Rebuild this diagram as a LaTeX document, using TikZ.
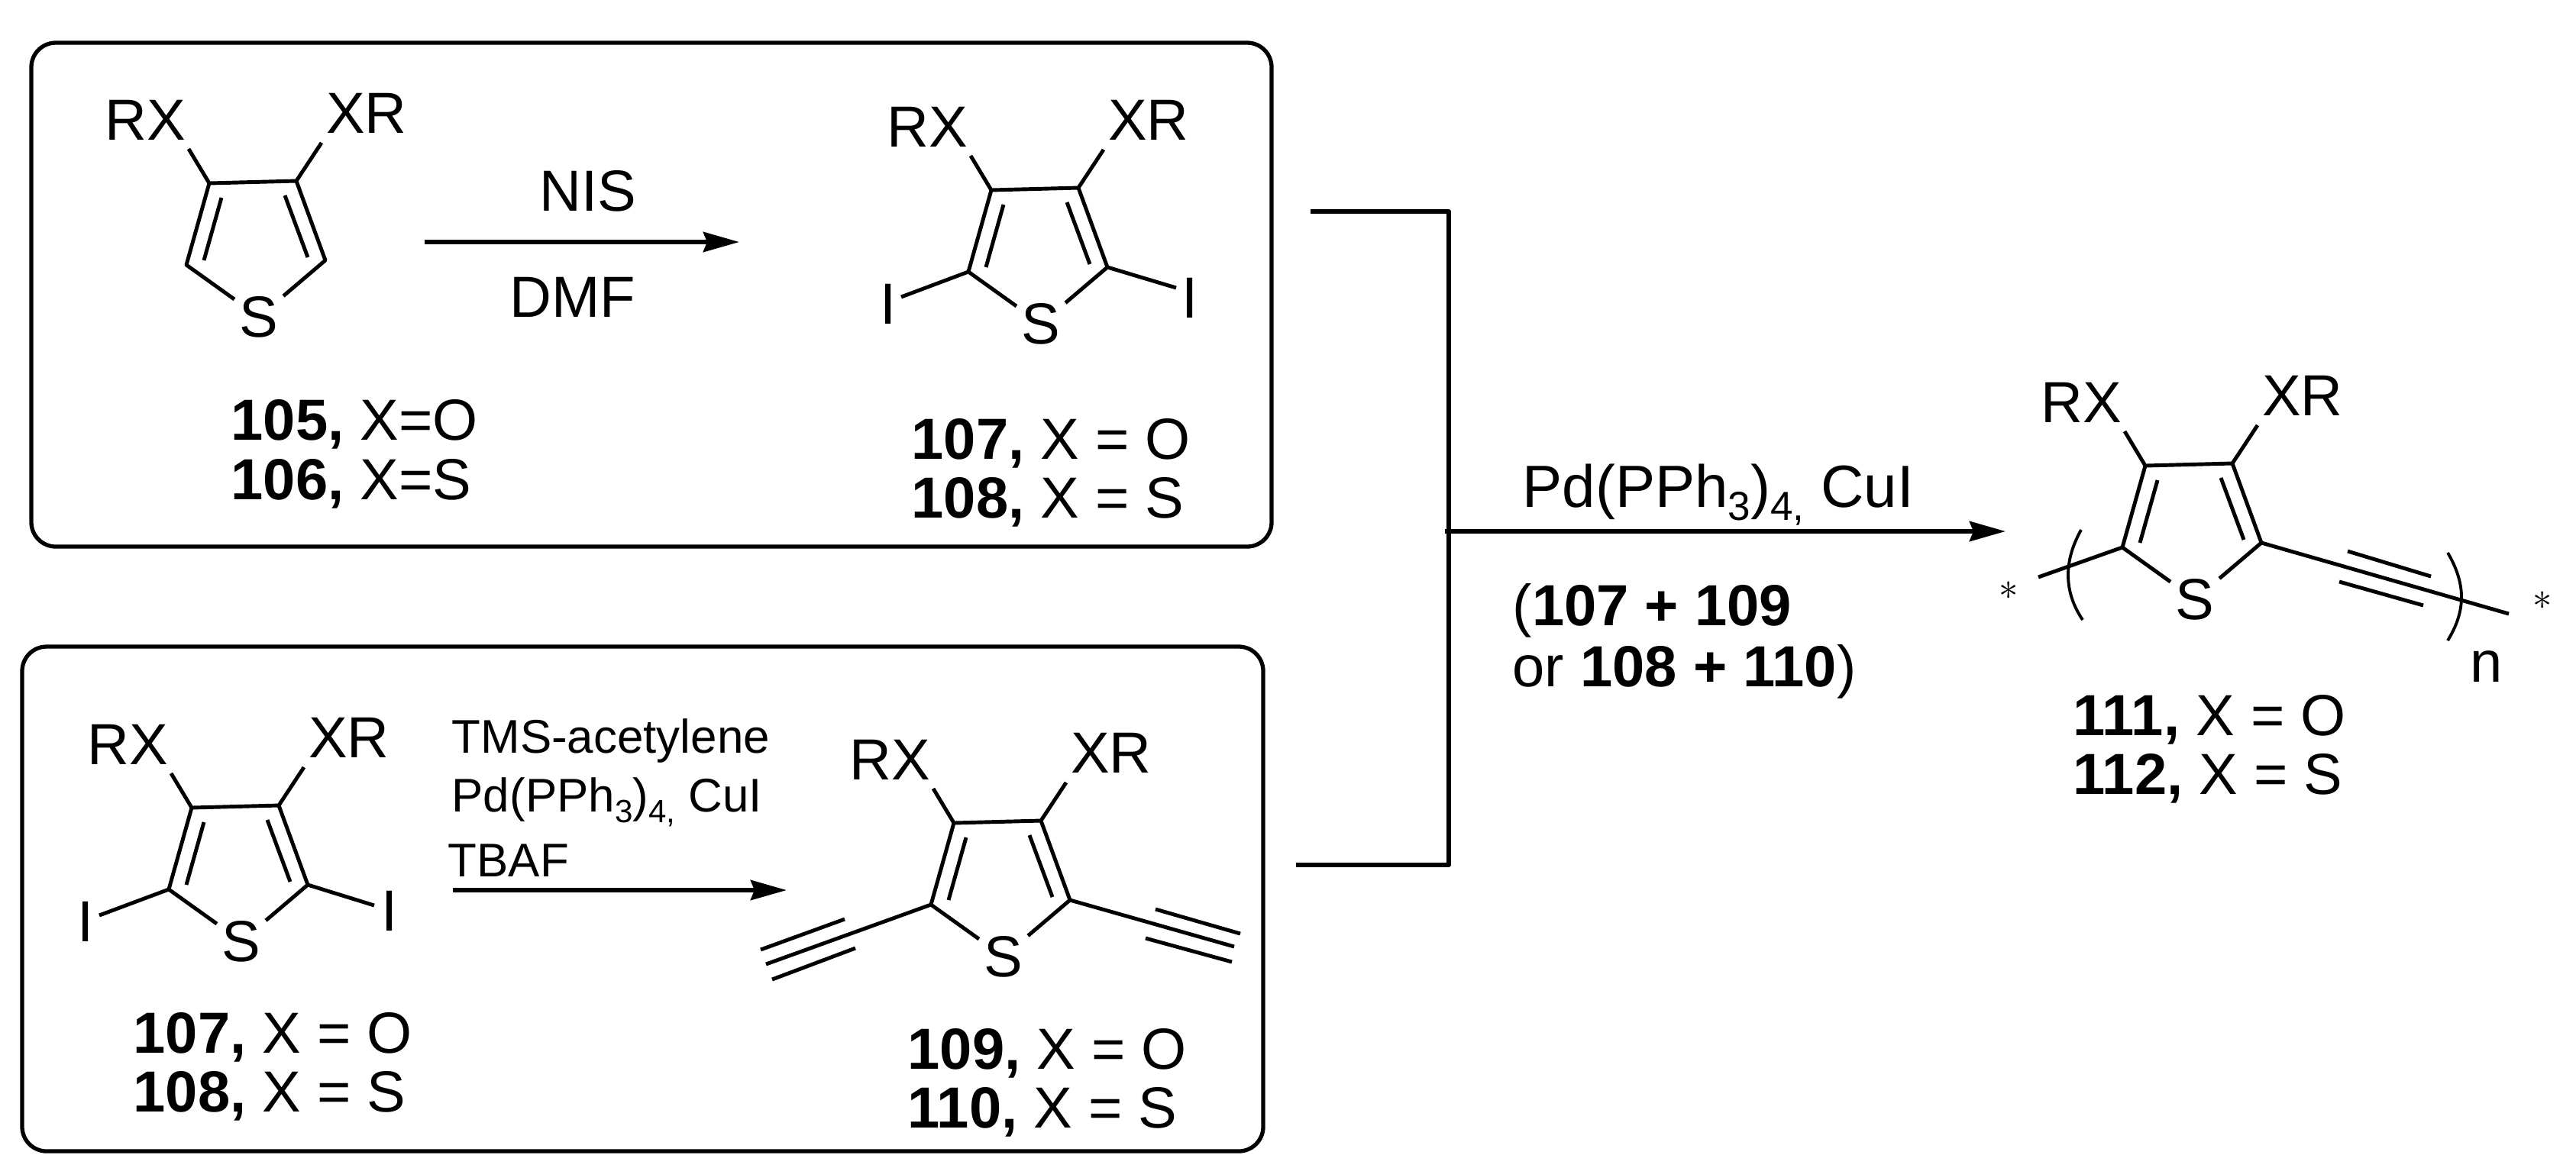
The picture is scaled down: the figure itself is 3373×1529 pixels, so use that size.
\documentclass[tikz,border=0pt]{standalone}
\usepackage{fontspec}
\setmainfont{Liberation Sans}
\usetikzlibrary{arrows.meta}

\tikzset{
    bond/.style={black, line width=1.4pt, line join=round},
    box/.style={black, line width=1.5pt, rounded corners=0.32cm},
    rxn/.style={black, line width=1.7pt, -{Stealth[length=0.47cm,width=0.26cm,inset=0.05cm]}},
    atom/.style={font=\fontsize{21.6}{24}\selectfont, inner sep=0.06cm},
    lab/.style={font=\fontsize{21.6}{24}\selectfont, inner sep=0, anchor=base west},
    reag/.style={font=\fontsize{17.6}{20}\selectfont, inner sep=0, anchor=base west},
    star/.style={font=\fontsize{15}{17}\selectfont, inner sep=0}
}

\newcommand{\lowtxt}[1]{\raisebox{-0.23em}{\scalebox{0.68}{#1}}}

% ring, drawn where the first one sits and moved by #2,#3
\newcommand{\thioring}[3]{%
    \begin{scope}[shift={(#2,#3)}]
        \coordinate (#1c2) at (244,347);
        \coordinate (#1c3) at (274,240);
        \coordinate (#1c4) at (388,237);
        \coordinate (#1c5) at (426,341);
        \coordinate (#1rxend) at (247,195);
        \coordinate (#1xrend) at (421,187);
        \node[atom] (#1s) at (339,415) {S};
        \node[atom] (#1rx) at (190,157) {RX};
        \node[atom] (#1xr) at (480,148) {XR};
        \draw[bond] (#1rxend) -- (#1c3) -- (#1c4) -- (#1xrend);
        \draw[bond] (#1s) -- (#1c2) -- (#1c3);
        \draw[bond] (#1s) -- (#1c5) -- (#1c4);
        \draw[bond] (290,259) -- (267,341);
        \draw[bond] (373,256) -- (403,337);
    \end{scope}}

\begin{document}
\begin{tikzpicture}[x=0.01cm, y=-0.01cm]
    \useasboundingbox (0,0) rectangle (3373,1529);

    % top box
    \draw[box] (41,56) rectangle (1665,716);
    \thioring{a}{0}{0}
    \thioring{b}{1024}{9}
    \node[atom] (bil) at (1163,398) {I};
    \node[atom] (bir) at (1558,390) {I};
    \coordinate (bilend) at (1180,389);
    \coordinate (birend) at (1540,377);
    \draw[bond] (bc2) -- (bilend);
    \draw[bond] (bc5) -- (birend);

    \coordinate (nisa) at (556,317);
    \coordinate (nisb) at (968,317);
    \draw[rxn] (nisa) -- (nisb);
    \node[atom] (nis) at (770,250) {NIS};
    \node[atom] (dmf) at (750,389) {DMF};

    \node[lab] (l105) at (302,576) {\textbf{105,} X=O};
    \node[lab] (l106) at (302,654) {\textbf{106,} X=S};
    \node[lab] (l107a) at (1193,601) {\textbf{107,} X = O};
    \node[lab] (l108a) at (1193,678) {\textbf{108,} X = S};

    % bottom box
    \draw[box] (29,847) rectangle (1654,1508);
    \thioring{c}{-23}{818}
    \thioring{d}{975}{838}
    \node[atom] (cil) at (112,1207) {I};
    \node[atom] (cir) at (510,1193) {I};
    \coordinate (cilend) at (130,1199);
    \coordinate (cirend) at (490,1186);
    \draw[bond] (cc2) -- (cilend);
    \draw[bond] (cc5) -- (cirend);

    \coordinate (dle) at (1003,1263);
    \coordinate (dre) at (1616,1240);
    \draw[bond] (dc2) -- (dle);
    \draw[bond] (dc5) -- (dre);
    \draw[bond] (1106,1204) -- (996,1244);
    \draw[bond] (1120,1242) -- (1011,1283);
    \draw[bond] (1513,1191) -- (1624,1223);
    \draw[bond] (1500,1229) -- (1613,1260);

    \coordinate (tmsa) at (593,1166);
    \coordinate (tmsb) at (1030,1166);
    \draw[rxn] (tmsa) -- (tmsb);
    \node[reag] (tms) at (591,986) {TMS-acetylene};
    \node[reag] (pdb) at (591,1063) {Pd(PPh\lowtxt{3})\lowtxt{4,} CuI};
    \node[reag] (tbaf) at (586,1148) {TBAF};

    \node[lab] (l107b) at (174,1379) {\textbf{107,} X = O};
    \node[lab] (l108b) at (174,1456) {\textbf{108,} X = S};
    \node[lab] (l109) at (1188,1400) {\textbf{109,} X = O};
    \node[lab] (l110) at (1188,1477) {\textbf{110,} X = S};

    % bracket and main arrow
    \coordinate (brt) at (1716,277);
    \coordinate (brc) at (1897,277);
    \coordinate (brd) at (1897,1133);
    \coordinate (brb) at (1697,1133);
    \coordinate (mida) at (1892,696);
    \coordinate (midb) at (2626,696);
    \draw[bond, line width=1.6pt] (brt) -- (brc) -- (brd) -- (brb);
    \draw[rxn] (mida) -- (midb);
    \node[lab, font=\fontsize{22.2}{24}\selectfont] (pdm) at (1993,664) {Pd(PPh\lowtxt{3})\lowtxt{4,} CuI};
    \node[lab] (mixa) at (1980,819) {(\textbf{107 + 109}};
    \node[lab] (mixb) at (1980,899) {or \textbf{108 + 110})};

    % polymer
    \thioring{e}{2535}{370}
    \coordinate (ele) at (2669,756);
    \coordinate (ere) at (3285,804);
    \draw[bond] (ec2) -- (ele);
    \draw[bond] (ec5) -- (ere);
    \draw[bond] (3074,722) -- (3183,755);
    \draw[bond] (3063,762) -- (3173,793);
    \draw[bond, line width=1.1pt] (2725,694) .. controls (2702,735) and (2702,775) .. (2727,812);
    \draw[bond, line width=1.1pt] (3205,724) .. controls (3229,765) and (3229,800) .. (3205,839);
    \node[star] (sl) at (2630,774) {$*$};
    \node[star] (sr) at (3329,787) {$*$};
    \node[atom] (n) at (3256,873) {n};
    \node[lab] (l111) at (2714,963) {\textbf{111,} X = O};
    \node[lab] (l112) at (2714,1040) {\textbf{112,} X = S};
\end{tikzpicture}
\end{document}
